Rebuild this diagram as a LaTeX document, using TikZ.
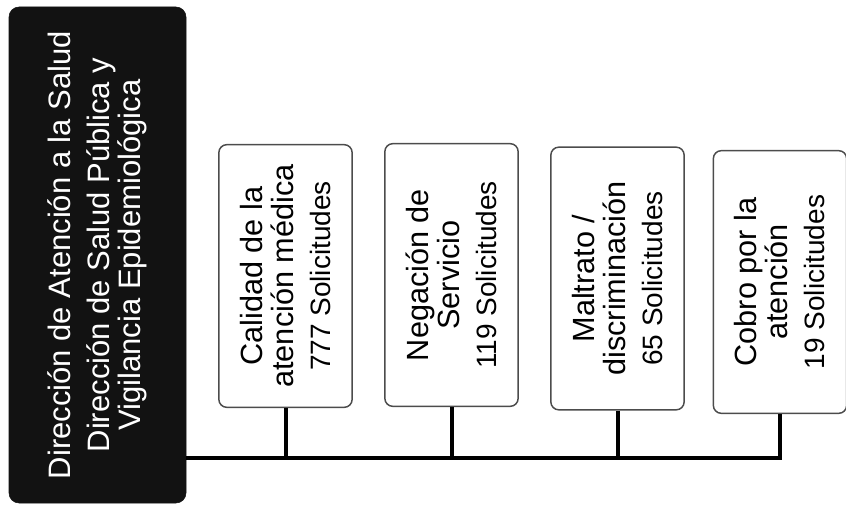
\documentclass[tikz,border=0pt]{standalone}
\usepackage{fontspec}
\setmainfont{Liberation Sans}
\usetikzlibrary{positioning}
\tikzset{
	dirbox/.style={rotate=90, fill=black!93, draw=black!93, rounded corners=7.5pt,
		minimum width=372pt, minimum height=132.75pt, text=white, align=center,
		font=\fontsize{23.25pt}{21pt}\selectfont},
	motivo/.style={rotate=90, fill=white, draw=black!70, line width=1.1pt, rounded corners=6pt,
		minimum width=197pt, minimum height=100pt, align=center,
		font=\fontsize{23pt}{23.25pt}\selectfont},
	conn/.style={line width=3pt, black}
}
\newcommand{\solic}[1]{\\[4.5pt]{\fontsize{21pt}{23.25pt}\selectfont #1 Solicitudes}}

\begin{document}
\begin{tikzpicture}[x=0.75pt, y=-0.75pt]
					\useasboundingbox (0,0) rectangle (846,509);

					\node[dirbox] (dir) at (97.5,255)
						{Dirección de Atención a la Salud\\[8.25pt]
						Dirección de Salud Pública y\\
						Vigilancia Epidemiológica};

					\node[motivo] (cal) at (285.5,276) {Calidad de la\\atención médica\solic{777}};
					\node[motivo] (neg) at (451.5,275) {Negación de\\Servicio\solic{119}};
					\node[motivo] (mal) at (617.5,278.5) {Maltrato /\\discriminación\solic{65}};
					\node[motivo] (cob) at (780,282) {Cobro por la\\atención\solic{19}};

					% linea de conexion
					\coordinate (bus) at (0,458);
					\draw[conn] (dir.south |- bus) -- (cob.west |- bus) -- (cob.west);
					\foreach \m in {cal,neg,mal}
						\draw[conn] (\m.west) -- (\m.west |- bus);

				\end{tikzpicture}
\end{document}
